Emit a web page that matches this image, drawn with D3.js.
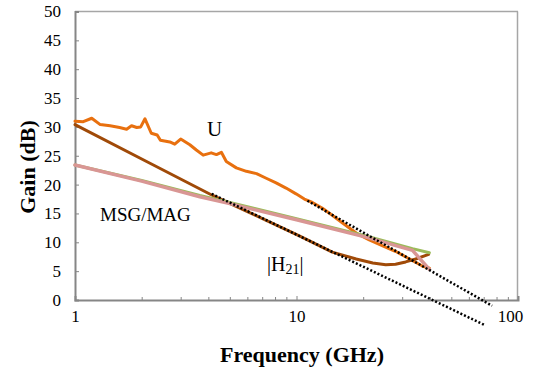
<!DOCTYPE html>
<html><head><meta charset="utf-8">
<script src="https://cdn.jsdelivr.net/npm/d3@7"></script>
<style>body{margin:0;background:#fff;}svg{display:block;} svg text{font-family:"Liberation Serif","Times New Roman",Times,"DejaVu Serif",serif;}</style>
</head><body>
<svg id="c" width="537" height="374"></svg>
<script>
// ---- data ----
const uFreq = [1,1.09,1.19,1.3,1.44,1.59,1.71,1.8,1.9,1.98,2.07,2.21,2.35,2.43,2.68,2.82,3.0,3.3,3.53,3.79,4.12,4.35,4.58,4.82,5.35,5.94,6.6,7.3,8.09,8.97,9.95,10.85,11.8,13.1,14.5,16.2,18.6,21.3,24.5,28.1,32.1,37.0,39.8];
const uGain = [31.0,30.9,31.5,30.4,30.2,29.9,29.6,30.2,29.9,30.0,31.4,28.9,28.6,27.7,27.4,27.0,27.9,26.9,26.0,25.1,25.5,25.2,25.6,24.0,22.9,22.3,21.9,21.1,20.3,19.4,18.4,17.5,16.9,15.9,14.7,13.3,11.6,10.4,9.4,8.4,7.2,5.9,5.5];
const h21Freq = [1,2.18,4.14,5.16,7.3,10.3,14.5,18.6,22.1,25.3,28,31.1,34.5,39.5];
const h21Gain = [30.4,23.7,18.2,16.5,13.8,11.1,8.3,7.1,6.4,6.1,6.2,6.6,7.1,7.9];
const msgFreq = [1,2,3.66,5,10,20.6,33.4,39.8];
const msgGain = [23.4,20.6,17.9,16.7,13.9,10.9,8.6,5.3];
const magFreq = [1,2,3.66,5,10,20.6,33.4,39.8];
const magGain = [23.4,20.7,18.1,16.9,14.1,11.1,8.9,8.2];
const fit1Freq = [4.14,70.3];   // lower -20 dB/dec line
const fit1Gain = [18.4,-4.3];
const fit2Freq = [11.2,76.4];   // upper -20 dB/dec line
const fit2Gain = [17.2,-1.0];
const yTicks = [0,5,10,15,20,25,30,35,40,45,50];
const xTicks = [1,10,100];
const xMinor = [2,3,4,5,6,7,8,9,20,30,40,50,60,70,80,90];

// ---- chart ----
const svg = d3.select('#c');
const x = d3.scaleLog().domain([1,100]).range([75,518]);
const y = d3.scaleLinear().domain([0,50]).range([300,11.5]);

// frame
svg.append('line').attr('x1',75).attr('x2',518).attr('y1',11.5).attr('y2',11.5).attr('stroke','#a6a6a6').attr('stroke-width',1.5);
svg.append('line').attr('x1',517.5).attr('x2',517.5).attr('y1',11.5).attr('y2',300).attr('stroke','#a6a6a6').attr('stroke-width',1.5);

// axes
const yAxis = svg.append('g').attr('transform','translate(75,0)')
  .call(d3.axisLeft(y).tickValues(yTicks).tickSize(-4).tickPadding(14));
const xAxis = svg.append('g').attr('transform','translate(0,300)')
  .call(d3.axisBottom(x).tickValues(xTicks).tickSize(-4).tickPadding(10).tickFormat(d3.format('d')));
svg.append('g').attr('transform','translate(0,300)')
  .call(d3.axisBottom(x).tickValues(xMinor).tickSize(-3).tickFormat(''))
  .call(g=>g.select('.domain').remove());
svg.selectAll('g').attr('font-family',null);
svg.selectAll('.domain').attr('stroke','#868686').attr('stroke-width',2);
svg.selectAll('.tick line').attr('stroke','#868686').attr('stroke-width',1);
svg.selectAll('.tick text').attr('font-size',17).attr('fill','#000');
xAxis.selectAll('.tick text').filter(d=>d===100).attr('dx',-8);

// lines
const line = d3.line().x(d=>x(d[0])).y(d=>y(d[1]));
const zip = (a,b)=>a.map((v,i)=>[v,b[i]]);
function draw(fx, fy, color, w, dash){
  const p = svg.append('path').datum(zip(fx,fy)).attr('d',line)
    .attr('fill','none').attr('stroke',color).attr('stroke-width',w)
    .attr('stroke-linejoin','round').attr('stroke-linecap', dash?'butt':'round');
  if(dash) p.attr('stroke-dasharray',dash);
}
draw(uFreq,uGain,'#e8700f',3);
draw(h21Freq,h21Gain,'#a04a08',3);
draw(magFreq,magGain,'#9bbb59',3);
draw(msgFreq,msgGain,'#d99694',3.5);
draw(fit1Freq,fit1Gain,'#000',2.5,'2,2');
draw(fit2Freq,fit2Gain,'#000',2.5,'2,2');

// labels
svg.append('text').attr('x',207).attr('y',136).attr('font-size',21).text('U');
svg.append('text').attr('x',100).attr('y',221).attr('font-size',19).text('MSG/MAG');
const h = svg.append('text').attr('x',267).attr('y',271).attr('font-size',20);
h.append('tspan').text('|H');
h.append('tspan').attr('font-size',14).attr('dy',3).text('21');
h.append('tspan').attr('dy',-3).text('|');

svg.append('text').attr('transform','translate(35,167) rotate(-90)').attr('text-anchor','middle')
  .attr('font-weight','bold').attr('font-size',22).text('Gain (dB)');
svg.append('text').attr('x',302).attr('y',362).attr('text-anchor','middle')
  .attr('font-weight','bold').attr('font-size',22).text('Frequency (GHz)');
</script>
</body></html>
